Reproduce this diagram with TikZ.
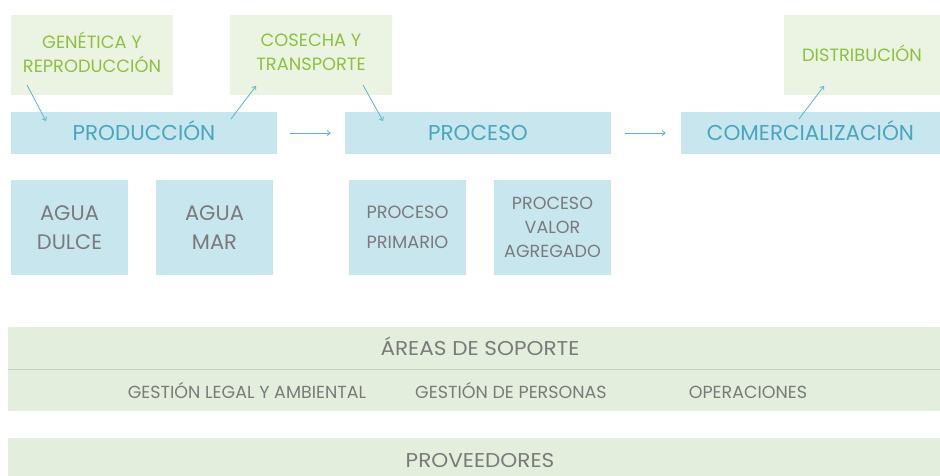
\documentclass[tikz,border=0pt]{standalone}
\usepackage{fontspec}
\setmainfont{Poppins}
\newfontfamily\bandfont[FakeStretch=1.08]{Poppins}
\usetikzlibrary{arrows.meta}
\definecolor{taskfill}{HTML}{EBF4E2}
\definecolor{tasktext}{HTML}{8CC13F}
\definecolor{stagefill}{HTML}{C8E6EE}
\definecolor{stagetext}{HTML}{4AA6BF}
\definecolor{subtext}{HTML}{7A7A7A}
\definecolor{bandfill}{HTML}{E3EEDC}
\definecolor{bandline}{HTML}{C5CCC0}
\definecolor{arrowblue}{HTML}{5AB4CC}
\begin{document}
\begin{tikzpicture}[x=1pt,y=-1pt,
    task/.style={fill=taskfill,text=tasktext,minimum width=162pt,minimum height=80pt,inner sep=0pt,align=center,font=\fontsize{17.8}{24}\selectfont},
    stage/.style={fill=stagefill,text=stagetext,minimum width=266pt,minimum height=42pt,inner sep=0pt,text height=14pt,text depth=0pt,font=\fontsize{21.5}{24}\selectfont},
    sub/.style={fill=stagefill,text=subtext,minimum width=117pt,minimum height=95pt,inner sep=0pt,align=center},
    band/.style={fill=bandfill,text=subtext,minimum width=944pt,minimum height=42pt,inner sep=0pt,text height=15pt,text depth=0pt,font=\bandfont\fontsize{20}{20}\selectfont},
    item/.style={text=subtext,inner sep=0pt,text height=14pt,text depth=0pt,font=\fontsize{17.5}{20}\selectfont},
    arr/.style={draw=arrowblue,line width=0.8pt,-{Straight Barb[length=3pt,width=5pt]}}]

    \useasboundingbox (0,0) rectangle (940,475);

    \node[task,text depth=6pt] (gen) at (92,55) {GENÉTICA Y\\REPRODUCCIÓN};
    \node[task,text depth=6pt] (cos) at (311,55) {COSECHA Y\\TRANSPORTE};
    \node[task,minimum width=156pt,text height=13pt,text depth=0pt] (dist) at (862,55) {DISTRIBUCIÓN};

    \node[stage] (prod) at (144,133) {PRODUCCIÓN};
    \node[stage] (proc) at (478,133) {PROCESO};
    \node[stage,minimum width=259pt] (com) at (810.5,133) {COMERCIALIZACIÓN};

    \node[sub,font=\fontsize{21}{29}\selectfont] (dulce) at (69.5,227.5) {AGUA\\DULCE};
    \node[sub,font=\fontsize{21}{29}\selectfont] (mar) at (214.5,227.5) {AGUA\\MAR};
    \node[sub,font=\fontsize{17.7}{30}\selectfont] (prim) at (407.5,227.5) {PROCESO\\PRIMARIO};
    \node[sub,font=\fontsize{17.5}{24}\selectfont] (valor) at (552.5,227.5) {PROCESO\\VALOR\\AGREGADO};

    \node[band] (areas) at (480,348) {ÁREAS DE SOPORTE};
    \node[band] (soporte) at (480,390) {};
    \node[band,minimum height=44pt] (prov) at (480,460) {PROVEEDORES};
    \draw[bandline,line width=1.2pt] (areas.south west) -- (areas.south east);

    \node[item] (legal) at (247,391) {GESTIÓN LEGAL Y AMBIENTAL};
    \node[item] (personas) at (511,391) {GESTIÓN DE PERSONAS};
    \node[item] (oper) at (748,391) {OPERACIONES};

    \coordinate (g1) at (27,85);
    \coordinate (g2) at (46,121);
    \coordinate (c1) at (231,119);
    \coordinate (c2) at (256,86);
    \coordinate (t1) at (363,85);
    \coordinate (t2) at (383,121);
    \coordinate (d1) at (799,119);
    \coordinate (d2) at (824,86);

    \draw[arr] (g1) -- (g2);
    \draw[arr] (c1) -- (c2);
    \draw[arr] (t1) -- (t2);
    \draw[arr] (d1) -- (d2);
    \draw[arr,shorten <=13pt,shorten >=14pt] (prod) -- (proc);
    \draw[arr,shorten <=14pt,shorten >=15pt] (proc) -- (com);
\end{tikzpicture}
\end{document}
